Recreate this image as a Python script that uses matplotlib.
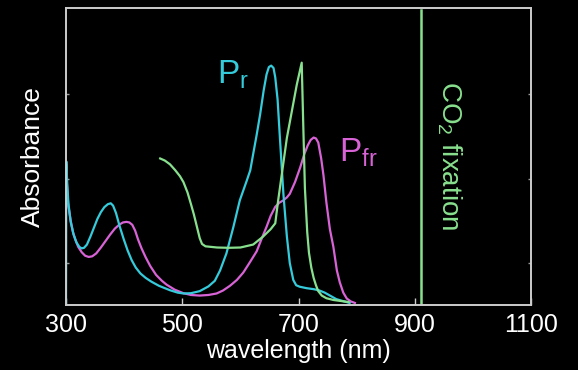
import numpy as np
import matplotlib
matplotlib.use("Agg")
import matplotlib.pyplot as plt

# absorbance spectra (wavelength in nm, arbitrary units)
pr_nm = [300, 300.5, 302, 304, 308, 313, 318, 323, 327, 331, 336, 342, 348, 354, 360, 366,
         372, 377, 381, 386, 392, 399, 406, 413, 420, 428, 437, 447, 460, 479, 492, 502,
         515, 530, 545, 556, 565, 576, 588, 599, 611, 617, 622, 628, 634, 640, 645, 649,
         653, 657, 660, 664, 668, 674, 680, 685, 691, 696, 702, 714, 725, 735, 745, 755,
         765, 777, 788]
pr_abs = [0.0, 0.48, 0.41, 0.34, 0.275, 0.232, 0.205, 0.19, 0.185, 0.187, 0.198, 0.225,
          0.255, 0.285, 0.308, 0.325, 0.335, 0.338, 0.330, 0.305, 0.262, 0.218, 0.178, 0.145,
          0.12, 0.10, 0.085, 0.072, 0.058, 0.043, 0.035, 0.032, 0.033, 0.040, 0.056, 0.075,
          0.110, 0.168, 0.258, 0.348, 0.415, 0.45, 0.505, 0.57, 0.64, 0.72, 0.775, 0.80,
          0.805, 0.797, 0.765, 0.69, 0.56, 0.37, 0.225, 0.135, 0.078, 0.06, 0.055, 0.05,
          0.047, 0.043, 0.035, 0.024, 0.013, 0.006, 0.0]

pfr_nm = [301, 304, 308, 312, 316, 321, 327, 333, 339, 345, 352, 360, 368, 376, 384, 392,
          398, 404, 409, 414, 419, 424, 430, 437, 445, 455, 465, 473, 487, 502, 515, 530,
          545, 559, 570, 582, 594, 605, 617, 628, 637, 645, 652, 660, 667, 674, 680, 685,
          694, 703, 710, 716, 721, 726, 730, 734, 739, 743, 748, 754, 760, 766, 771, 777,
          783, 790, 797]
pfr_abs = [0.42, 0.33, 0.28, 0.24, 0.215, 0.19, 0.172, 0.16, 0.156, 0.158, 0.168, 0.188,
           0.21, 0.232, 0.252, 0.266, 0.273, 0.275, 0.273, 0.265, 0.245, 0.215, 0.185, 0.155,
           0.125, 0.095, 0.075, 0.062, 0.045, 0.033, 0.027, 0.025, 0.027, 0.032, 0.042, 0.058,
           0.078, 0.103, 0.14, 0.175, 0.22, 0.258, 0.295, 0.326, 0.34, 0.348, 0.358, 0.37,
           0.41, 0.46, 0.505, 0.535, 0.553, 0.561, 0.558, 0.544, 0.49, 0.432, 0.34, 0.25,
           0.19, 0.11, 0.07, 0.035, 0.015, 0.005, 0.0]

co2_nm = [462, 470, 479, 488, 496, 502, 509, 515, 520, 525, 530, 534, 540, 560, 580, 600,
          622, 639, 652, 660, 665, 680, 697, 705.5, 708, 711, 715, 718, 722, 726, 730, 734,
          740, 748, 760, 771, 786]
co2_abs = [0.49, 0.483, 0.47, 0.45, 0.43, 0.41, 0.375, 0.335, 0.30, 0.26, 0.22, 0.20,
           0.192, 0.188, 0.187, 0.188, 0.198, 0.225, 0.25, 0.27, 0.348, 0.56, 0.74, 0.815,
           0.617, 0.39, 0.24, 0.17, 0.12, 0.085, 0.06, 0.04, 0.025, 0.016, 0.01, 0.007, 0.003]

co2_line_nm = 910
xticks = [300, 500, 700, 900, 1100]
yticks = [0.135, 0.42, 0.71]

cyan = "#35cbdb"
magenta = "#d863d6"
green = "#88e08e"

plt.rcParams["font.family"] = ["Liberation Sans", "DejaVu Sans"]

fig = plt.figure(figsize=(5.78, 3.70), dpi=100, facecolor="black")
ax = fig.add_axes([0.1142, 0.1757, 0.8045, 0.8023], facecolor="black")

ax.plot(pfr_nm, pfr_abs, color=magenta, lw=1.6, solid_joinstyle="round")
ax.plot(pr_nm, pr_abs, color=cyan, lw=1.6, solid_joinstyle="round")
ax.plot(co2_nm, co2_abs, color=green, lw=1.6, solid_joinstyle="round")
ax.axvline(co2_line_nm, ymin=0.0, ymax=0.993, color=green, lw=1.8)

ax.set_xlim(300, 1100)
ax.set_ylim(-0.007, 1.0)
ax.set_xticks(xticks)
ax.set_xticklabels([str(t) for t in xticks])
ax.set_yticks(yticks)
ax.set_yticklabels([])
ax.tick_params(axis="x", direction="in", length=5, width=1, color="#cccccc",
               labelcolor="white", labelsize=18, pad=6)
ax.tick_params(axis="y", direction="in", length=2, width=1, color="#999999",
               left=True, right=True)
for s in ax.spines.values():
    s.set_color("#cccccc")
    s.set_linewidth(1.4)

ax.set_xlabel("wavelength (nm)", color="white", fontsize=18, labelpad=1)
ax.set_ylabel("Absorbance", color="white", fontsize=19, labelpad=12)

ax.text(559, 0.72, r"P$_\mathregular{r}$", color=cyan, fontsize=24, ha="left", va="bottom")
ax.text(770, 0.455, r"P$_\mathregular{fr}$", color=magenta, fontsize=24, ha="left", va="bottom")
ax.text(960, 0.50, r"CO$_\mathregular{2}$ fixation", color=green, fontsize=20,
        rotation=-90, ha="center", va="center")

fig.savefig("out.png", dpi=100, facecolor="black")
